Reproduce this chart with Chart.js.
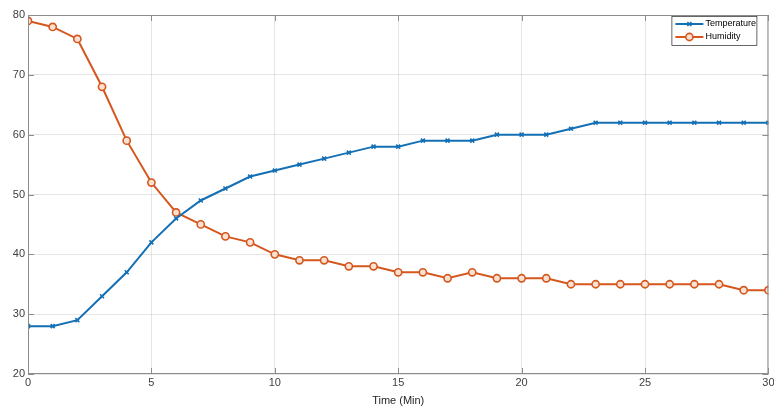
<!DOCTYPE html>
<html>
<head>
<meta charset="utf-8">
<script src="https://cdn.jsdelivr.net/npm/chart.js@4/dist/chart.umd.min.js"></script>
<style>
    html, body { margin: 0; padding: 0; background: #fff; }
    #wrap { width: 774px; height: 408px; }
</style>
</head>
<body>
<div id="wrap"><canvas id="chart-line"></canvas></div>
<script>
const minutes = [0, 1, 2, 3, 4, 5, 6, 7, 8, 9, 10, 11, 12, 13, 14, 15, 16, 17, 18, 19, 20, 21, 22, 23, 24, 25, 26, 27, 28, 29, 30]
const temperature = [28, 28, 29, 33, 37, 42, 46, 49, 51, 53, 54, 55, 56, 57, 58, 58, 59, 59, 59, 60, 60, 60, 61, 62, 62, 62, 62, 62, 62, 62, 62]
const humidity = [79, 78, 76, 68, 59, 52, 47, 45, 43, 42, 40, 39, 39, 38, 38, 37, 37, 36, 37, 36, 36, 36, 35, 35, 35, 35, 35, 35, 35, 34, 34]
const xTicks = [0, 5, 10, 15, 20, 25, 30]
const yTicks = [20, 30, 40, 50, 60, 70, 80]

const BLUE = '#1470B5'
const ORANGE = '#D5571E'
const FONT = 'Liberation Sans, Arial, sans-serif'

function pairs(ys) {
    return minutes.map((x, i) => ({ x: x, y: ys[i] }))
}

// box around the axes with small inward ticks, like MATLAB
const boxPlugin = {
    id: 'box',
    afterDatasetsDraw(chart) {
        const { ctx, chartArea: a, scales } = chart
        ctx.save()
        ctx.strokeStyle = '#8c8c8c'
        ctx.lineWidth = 1
        ctx.strokeRect(a.left + 0.5, a.top + 0.5, a.right - a.left - 1, a.bottom - a.top - 1)
        ctx.beginPath()
        xTicks.forEach(v => {
            const px = Math.round(scales.x.getPixelForValue(v)) + 0.5
            ctx.moveTo(px, a.bottom); ctx.lineTo(px, a.bottom - 6)
            ctx.moveTo(px, a.top); ctx.lineTo(px, a.top + 6)
        })
        yTicks.forEach(v => {
            const py = Math.round(scales.y.getPixelForValue(v)) + 0.5
            ctx.moveTo(a.left, py); ctx.lineTo(a.left + 6, py)
            ctx.moveTo(a.right, py); ctx.lineTo(a.right - 6, py)
        })
        ctx.stroke()
        ctx.restore()
    }
}

// legend box inside the plot, top right
const legendPlugin = {
    id: 'boxLegend',
    afterDraw(chart) {
        const { ctx, chartArea: a } = chart
        const w = 85, h = 29
        const x0 = a.right - 97, y0 = a.top + 1
        ctx.save()
        ctx.fillStyle = '#fff'
        ctx.fillRect(x0, y0, w, h)
        ctx.strokeStyle = '#262626'
        ctx.lineWidth = 0.7
        ctx.strokeRect(x0 + 0.5, y0 + 0.5, w, h)
        chart.data.datasets.forEach((ds, i) => {
            const cy = y0 + 8 + i * 13
            ctx.strokeStyle = ds.borderColor
            ctx.lineWidth = 2
            ctx.beginPath()
            ctx.moveTo(x0 + 4, cy); ctx.lineTo(x0 + 32, cy)
            ctx.stroke()
            ctx.fillStyle = ds.pointBackgroundColor
            ctx.lineWidth = ds.pointBorderWidth
            Chart.helpers.drawPoint(ctx, {
                pointStyle: ds.pointStyle,
                radius: ds.pointRadius,
                borderWidth: ds.pointBorderWidth
            }, x0 + 18, cy)
            ctx.fillStyle = '#000'
            ctx.font = '9px ' + FONT
            ctx.textBaseline = 'middle'
            ctx.fillText(ds.label, x0 + 34, cy)
        })
        ctx.restore()
    }
}

new Chart(document.getElementById('chart-line'), {
    type: 'line',
    data: {
        datasets: [
            {
                label: 'Temperature',
                data: pairs(temperature),
                borderColor: BLUE,
                backgroundColor: BLUE,
                borderWidth: 2,
                pointStyle: 'crossRot',
                pointRadius: 2.8,
                pointBorderWidth: 1.6,
                pointBorderColor: BLUE,
                pointBackgroundColor: BLUE
            },
            {
                label: 'Humidity',
                data: pairs(humidity),
                borderColor: ORANGE,
                backgroundColor: ORANGE,
                borderWidth: 2,
                pointStyle: 'circle',
                pointRadius: 3.6,
                pointBorderWidth: 1.6,
                pointBorderColor: ORANGE,
                pointBackgroundColor: 'rgba(250, 225, 210, 1)'
            }
        ]
    },
    options: {
        responsive: true,
        maintainAspectRatio: false,
        animation: false,
        layout: { padding: { top: 15, right: 5, left: 0, bottom: 0 } },
        scales: {
            x: {
                type: 'linear',
                min: 0,
                max: 30,
                afterBuildTicks: s => { s.ticks = xTicks.map(v => ({ value: v })) },
                afterFit: s => { s.height = 34; s.paddingRight = 0; s.paddingLeft = 0 },
                ticks: { color: '#404040', font: { family: FONT, size: 11 }, padding: 2, maxRotation: 0 },
                border: { display: false },
                grid: { color: 'rgba(0, 0, 0, 0.1)', lineWidth: 1, drawTicks: false },
                title: { display: true, text: 'Time (Min)', color: '#262626', font: { family: FONT, size: 11 }, padding: { top: 1, bottom: 0 } }
            },
            y: {
                min: 20,
                max: 80,
                afterBuildTicks: s => { s.ticks = yTicks.map(v => ({ value: v })) },
                afterFit: s => { s.width = 28 },
                ticks: { color: '#404040', font: { family: FONT, size: 11 }, padding: 3 },
                border: { display: false },
                grid: { color: 'rgba(0, 0, 0, 0.1)', lineWidth: 1, drawTicks: false }
            }
        },
        plugins: {
            legend: { display: false },
            tooltip: { enabled: false }
        }
    },
    plugins: [boxPlugin, legendPlugin]
})
</script>
</body>
</html>
